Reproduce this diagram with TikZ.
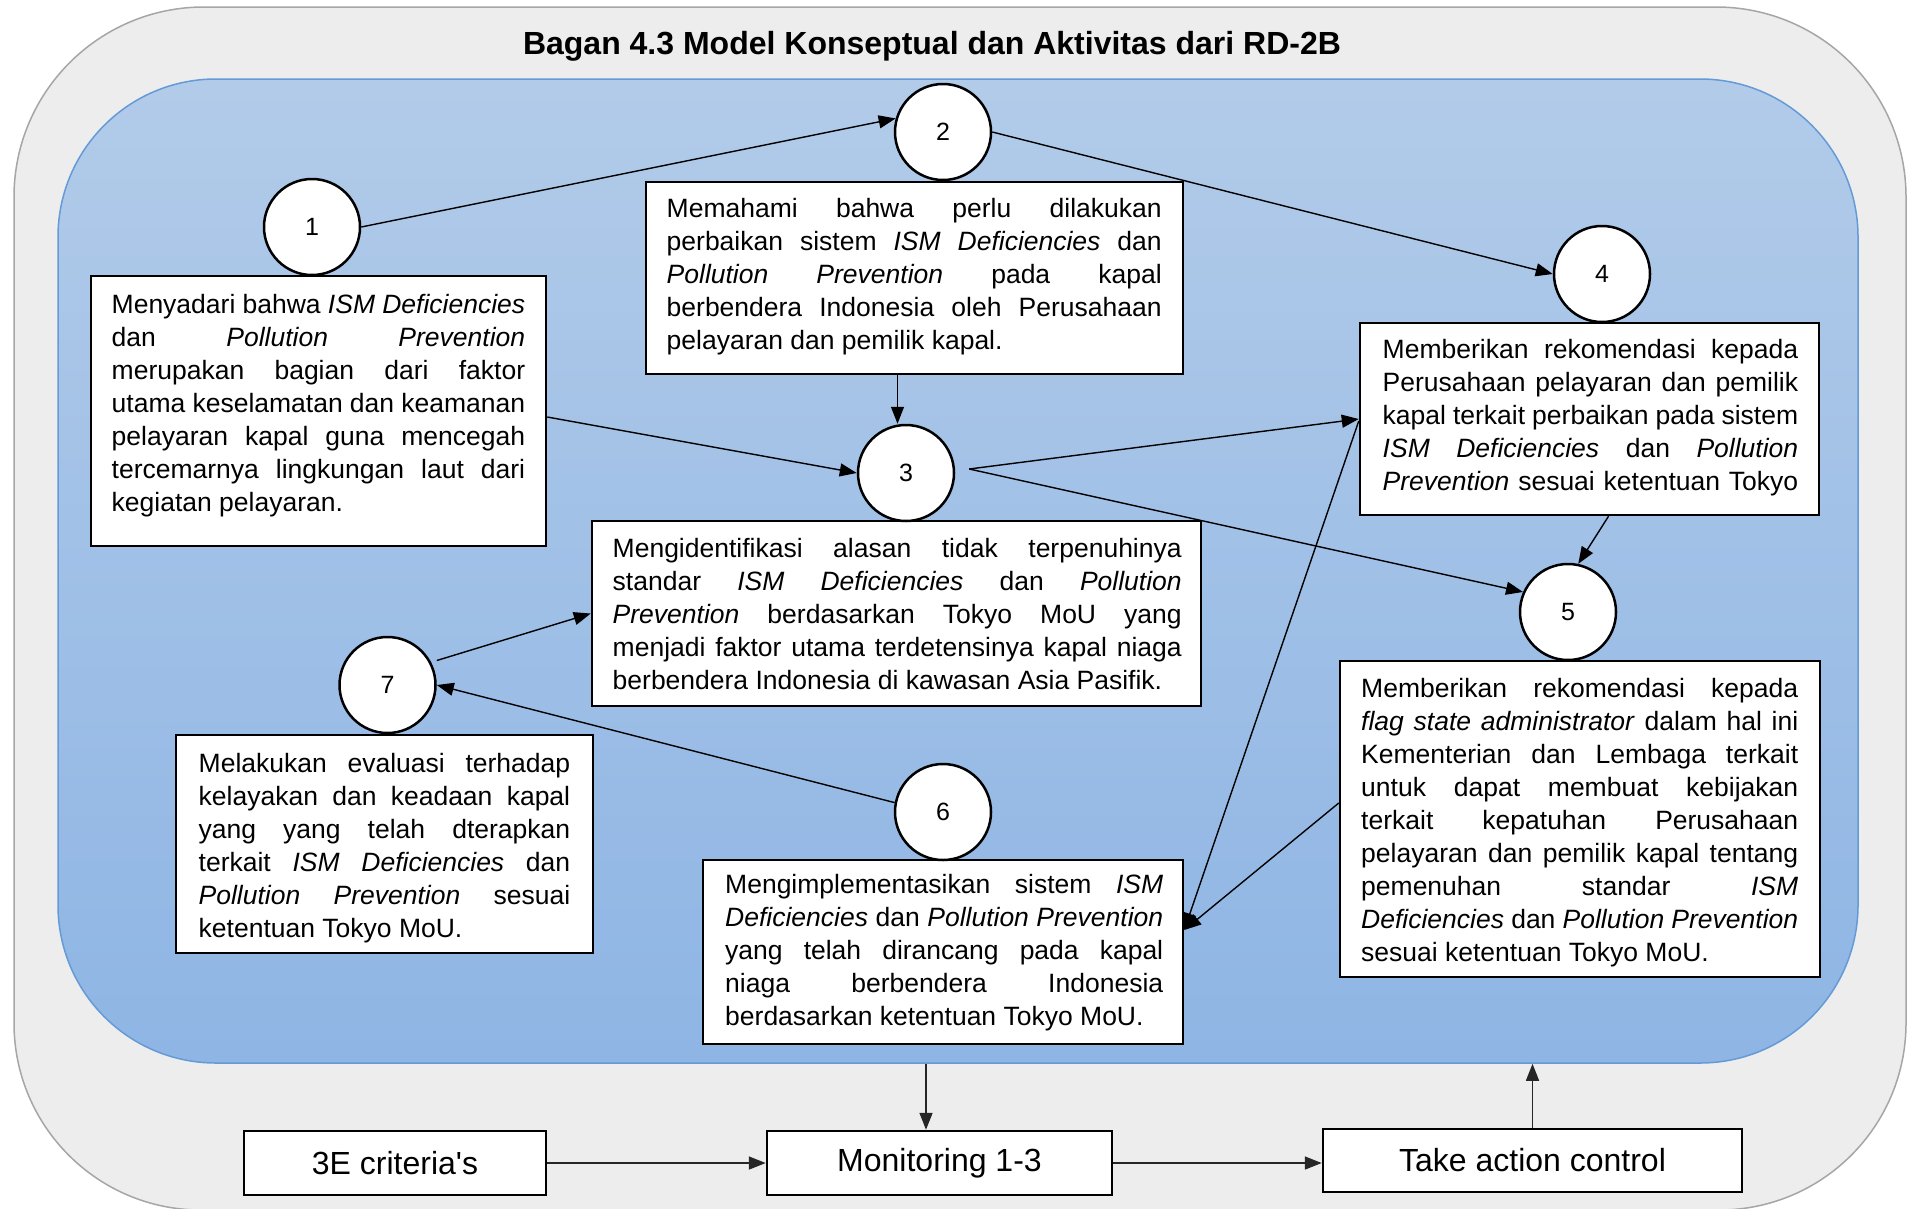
\documentclass[tikz,border=0pt]{standalone}
\usepackage{fontspec}
\setmainfont{Liberation Sans}
\usetikzlibrary{arrows.meta,calc}
\setlength\parindent{0pt}

\definecolor{outerfill}{HTML}{EDEDED}
\definecolor{outerline}{HTML}{A6A6A6}
\definecolor{bluetop}{RGB}{178,203,233}
\definecolor{bluebot}{RGB}{142,181,228}
\definecolor{blueline}{RGB}{100,155,215}

% one justified line of a box text, and a final ragged line
% (normal, stretchable interword spaces restored)
\newcommand\jline[1]{{\spaceskip=0pt\xspaceskip=0pt\makebox[\hsize][s]{\strut#1}}}
\newcommand\lastline[1]{{\spaceskip=0pt\xspaceskip=0pt\strut#1}}
\newcommand\straightquote{\XeTeXglyph\XeTeXglyphindex "quotesingle"\relax}

\tikzset{
  box/.style={rectangle, draw=black, line width=2.5pt, fill=white, inner sep=0pt},
  num/.style={circle, draw=black, line width=2.5pt, fill=white, minimum size=96pt,
    inner sep=0pt, font=\fontsize{25}{30}\selectfont},
  txt/.style={inner sep=0pt, anchor=north west, align=left,
    font=\fontsize{26.5}{33}\selectfont},
  ctrl/.style={rectangle, draw=black, line width=2.5pt, fill=white, inner sep=0pt,
    font=\fontsize{32}{36}\selectfont},
  arr/.style={-{Triangle[length=17pt,width=13pt]}, line width=1.4pt},
  barr/.style={-{Triangle[length=17pt,width=13pt]}, line width=1.6pt, draw=black!85},
}

\begin{document}
\begin{tikzpicture}[x=1pt,y=-1pt]
\useasboundingbox (0,0) rectangle (1910,1208);

% outer grey panel
\filldraw[fill=outerfill, draw=outerline, line width=1.5pt]
  (14,620) [rounded corners=190pt] -- (14,7) -- (1906,7) -- (1906,620)
  [rounded corners=187pt] -- (1906,1210) -- (14,1210) -- cycle;

\node[font=\bfseries\fontsize{32}{36}\selectfont, anchor=base, inner sep=0pt] (title)
  at (932,54) {Bagan 4.3 Model Konseptual dan Aktivitas dari RD-2B};

% blue activity area
\node[draw=blueline, line width=1.5pt, rounded corners=158pt, top color=bluetop,
  bottom color=bluebot, minimum width=1800pt, minimum height=984pt, inner sep=0pt]
  (stage) at (958,571) {};

% activity boxes
\node[box, minimum width=455pt, minimum height=270pt] (b1) at (318.5,411) {};
\node[box, minimum width=537pt, minimum height=192pt] (b2) at (914.5,278) {};
\node[box, minimum width=609pt, minimum height=185pt] (b3) at (896.5,613.5) {};
\node[box, minimum width=459pt, minimum height=192pt] (b4) at (1589.5,419) {};
\node[box, minimum width=480pt, minimum height=316pt] (b5) at (1580,819) {};
\node[box, minimum width=480pt, minimum height=184pt] (b6) at (943,952) {};
\node[box, minimum width=417pt, minimum height=218pt] (b7) at (384.5,844) {};

% box texts
\node[txt, text width=413.5pt] (t1) at (111.5,290) {%
\jline{Menyadari bahwa \textit{ISM Deficiencies}}\\
\jline{dan \textit{Pollution} \textit{Prevention}}\\
\jline{merupakan bagian dari faktor}\\
\jline{utama keselamatan dan keamanan}\\
\jline{pelayaran kapal guna mencegah}\\
\jline{tercemarnya lingkungan laut dari}\\
\lastline{kegiatan pelayaran.}};

\node[txt, text width=495pt] (t2) at (666.5,194) {%
\jline{Memahami bahwa perlu dilakukan}\\
\jline{perbaikan sistem \textit{ISM Deficiencies} dan}\\
\jline{\textit{Pollution} \textit{Prevention} pada kapal}\\
\jline{berbendera Indonesia oleh Perusahaan}\\
\lastline{pelayaran dan pemilik kapal.}};

\node[txt, text width=569pt] (t3) at (612.5,534) {%
\jline{Mengidentifikasi alasan tidak terpenuhinya}\\
\jline{standar \textit{ISM} \textit{Deficiencies} dan \textit{Pollution}}\\
\jline{\textit{Prevention} berdasarkan Tokyo MoU yang}\\
\jline{menjadi faktor utama terdetensinya kapal niaga}\\
\lastline{berbendera Indonesia di kawasan Asia Pasifik.}};

\node[txt, text width=415.5pt] (t4) at (1382.5,335) {%
\jline{Memberikan rekomendasi kepada}\\
\jline{Perusahaan pelayaran dan pemilik}\\
\jline{kapal terkait perbaikan pada sistem}\\
\jline{\textit{ISM} \textit{Deficiencies} dan \textit{Pollution}}\\
\jline{\textit{Prevention} sesuai ketentuan Tokyo}};

\node[txt, text width=437pt] (t5) at (1361,674) {%
\jline{Memberikan rekomendasi kepada}\\
\jline{\textit{flag state administrator} dalam hal ini}\\
\jline{Kementerian dan Lembaga terkait}\\
\jline{untuk dapat membuat kebijakan}\\
\jline{terkait kepatuhan Perusahaan}\\
\jline{pelayaran dan pemilik kapal tentang}\\
\jline{pemenuhan standar \textit{ISM}}\\
\jline{\textit{Deficiencies} dan \textit{Pollution Prevention}}\\
\lastline{sesuai ketentuan Tokyo MoU.}};

\node[txt, text width=438pt] (t6) at (725,870) {%
\jline{Mengimplementasikan sistem \textit{ISM}}\\
\jline{\textit{Deficiencies} dan \textit{Pollution Prevention}}\\
\jline{yang telah dirancang pada kapal}\\
\jline{niaga berbendera Indonesia}\\
\lastline{berdasarkan ketentuan Tokyo MoU.}};

\node[txt, text width=371.5pt] (t7) at (198.5,749) {%
\jline{Melakukan evaluasi terhadap}\\
\jline{kelayakan dan keadaan kapal}\\
\jline{yang yang telah dterapkan}\\
\jline{terkait \textit{ISM Deficiencies} dan}\\
\jline{\textit{Pollution} \textit{Prevention} sesuai}\\
\lastline{ketentuan Tokyo MoU.}};

% numbered activities
\node[num] (c1) at (312,227) {1};
\node[num] (c2) at (943,132) {2};
\node[num] (c3) at (906,473) {3};
\node[num] (c4) at (1602,274) {4};
\node[num] (c5) at (1568,612) {5};
\node[num] (c6) at (943,812) {6};
\node[num] (c7) at (387.5,685) {7};

% connectors between activities
\coordinate (c3out) at ($(c3.east)+(14,-4)$);
\coordinate (b6in) at ($(b6.east)+(0,-22)$);
\coordinate (b2down) at ($(b2.south)+(-17,0)$);

\draw[arr] (c1.east) -- (c2.164);
\draw[arr] (c2.east) -- (c4.west);
\draw[arr] ($(b1.east)+(0,6)$) -- (c3.west);
\draw[arr] (b2down) -- (b2down |- c3.north);
\draw[arr] (c3out) -- (b4.west);
\draw[arr] (c3out) -- (c5.156);
\draw[arr] ($(b4.south)+(19,0)$) -- (c5.78);
\draw[arr] ($(b4.west)+(0,2)$) -- (b6in);
\draw[arr] ($(b5.west)+(0,-16)$) -- (b6in);
\draw[arr] (c6.169) -- (c7.east);
\draw[arr] ($(c7.east)+(0,-24.5)$) -- (b3.west);

% control loop
\node[ctrl, minimum width=302pt, minimum height=64pt] (crit) at (395,1163) {3E criteria\straightquote s};
\node[ctrl, minimum width=345pt, minimum height=64pt] (mon) at (939.5,1163) {Monitoring 1-3};
\node[ctrl, minimum width=419pt, minimum height=63pt] (act) at (1532.5,1160.5) {Take action control};

\coordinate (mondown) at ($(mon.north)+(-13.5,0)$);
\draw[barr] (crit.east) -- (mon.west);
\draw[barr] (mon.east) -- (mon.east -| act.west);
\draw[barr] (mondown |- stage.south) -- (mondown);
\draw[barr] (act.north) -- (act.north |- stage.south);
\end{tikzpicture}
\end{document}
